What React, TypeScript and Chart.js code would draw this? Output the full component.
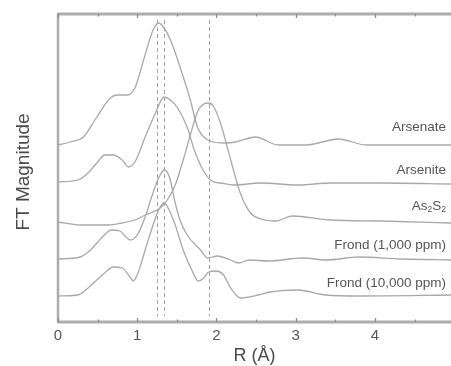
import React, { useEffect, useRef } from "react";
import { Chart, registerables } from "chart.js";

Chart.register(...registerables);

// R (Å) positions and FT magnitudes (arbitrary units, stacked with offsets)
const arsenateR = [0, 0.15, 0.32, 0.49, 0.66, 0.75, 0.87, 0.97, 1.08, 1.2, 1.27, 1.33, 1.42, 1.54, 1.67, 1.76, 1.89, 2.11, 2.24, 2.49, 2.78, 3.13, 3.54, 3.89, 4.97];
const arsenateY = [177, 180, 185, 205, 224, 227, 227, 234, 262, 292, 299, 295, 282, 255, 222, 195, 182, 179, 180, 185, 177, 177, 183, 177, 177];

const arseniteR = [0, 0.25, 0.38, 0.49, 0.59, 0.7, 0.81, 0.89, 0.97, 1.1, 1.23, 1.34, 1.42, 1.51, 1.63, 1.72, 1.83, 1.94, 2.05, 2.22, 2.56, 3.03, 3.44, 4.08, 4.97];
const arseniteY = [140, 142, 149, 159, 167, 167, 162, 155, 160, 185, 209, 225, 222, 214, 195, 172, 152, 141, 139, 137, 139, 137, 139, 139, 138];

const as2s2R = [0, 0.28, 0.63, 0.81, 0.97, 1.1, 1.2, 1.29, 1.38, 1.48, 1.58, 1.67, 1.76, 1.84, 1.9, 1.96, 2.05, 2.18, 2.3, 2.43, 2.56, 2.75, 2.96, 3.44, 4.08, 4.97];
const as2s2Y = [100, 97, 97, 99, 102, 107, 110, 114, 122, 137, 162, 187, 210, 218, 219, 216, 199, 162, 129, 109, 103, 101, 106, 102, 101, 99];

const frond1000R = [0, 0.28, 0.41, 0.49, 0.68, 0.78, 0.91, 1.0, 1.1, 1.19, 1.27, 1.34, 1.41, 1.47, 1.54, 1.63, 1.8, 1.89, 2.01, 2.18, 2.28, 2.41, 2.66, 3.09, 3.38, 3.8, 4.33, 4.97];
const frond1000Y = [63, 65, 72, 79, 92, 91, 82, 87, 105, 127, 144, 152, 144, 122, 102, 87, 72, 64, 66, 62, 59, 62, 61, 64, 62, 65, 63, 62];

const frond10000R = [0, 0.25, 0.38, 0.56, 0.7, 0.81, 0.91, 0.95, 1.01, 1.1, 1.23, 1.29, 1.34, 1.39, 1.48, 1.58, 1.7, 1.77, 1.84, 1.9, 1.99, 2.08, 2.18, 2.3, 2.53, 2.68, 3.03, 3.38, 3.8, 4.97];
const frond10000Y = [26, 27, 34, 47, 55, 54, 45, 41, 49, 72, 104, 115, 119, 114, 97, 72, 50, 41, 44, 50, 51, 48, 34, 24, 27, 30, 32, 27, 26, 27];

const seriesNames = ["Arsenate", "Arsenite", "As2S2", "Frond (1,000 ppm)", "Frond (10,000 ppm)"];
const labelLevels = [195, 152, 116, 77, 39];
const dashedR = [1.25, 1.34, 1.9];
const xTicks = [0, 1, 2, 3, 4];
const xMinorTicks = [0.5, 1.5, 2.5, 3.5, 4.5];

const FONT = "'Liberation Sans', Arial, sans-serif";
const LINE = "#a8a8a8";
const AXIS = "#adadad";
const TEXT = "#555555";

function pts(xs: number[], ys: number[]) {
  return xs.map((x, i) => ({ x, y: ys[i] }));
}

const decorPlugin = {
  id: "decor",
  beforeDatasetsDraw(chart: any) {
    const { ctx, chartArea, scales } = chart;
    const xs = scales.x;
    ctx.save();
    ctx.strokeStyle = "#a0a0a0";
    ctx.lineWidth = 1;
    ctx.setLineDash([4, 3]);
    dashedR.forEach((r) => {
      const px = Math.round(xs.getPixelForValue(r)) + 0.5;
      ctx.beginPath();
      ctx.moveTo(px, chartArea.top + 6);
      ctx.lineTo(px, chartArea.bottom - 6);
      ctx.stroke();
    });
    ctx.restore();
  },
  afterDraw(chart: any) {
    const { ctx, chartArea, scales } = chart;
    const xs = scales.x;
    const ys = scales.y;
    const { left, right, top, bottom } = chartArea;
    ctx.save();
    ctx.setLineDash([]);
    // axes
    ctx.strokeStyle = AXIS;
    ctx.lineWidth = 3;
    ctx.beginPath();
    ctx.moveTo(left - 1, top);
    ctx.lineTo(right, top);
    ctx.moveTo(left - 1, bottom);
    ctx.lineTo(right, bottom);
    ctx.stroke();
    ctx.lineWidth = 2.5;
    ctx.beginPath();
    ctx.moveTo(left, top);
    ctx.lineTo(left, bottom);
    ctx.stroke();
    // ticks
    ctx.strokeStyle = "#888";
    ctx.lineWidth = 1.2;
    const drawTick = (v: number, len: number) => {
      const px = Math.round(xs.getPixelForValue(v)) + 0.5;
      ctx.beginPath();
      ctx.moveTo(px, bottom);
      ctx.lineTo(px, bottom - len);
      ctx.moveTo(px, top);
      ctx.lineTo(px, top + len);
      ctx.stroke();
    };
    xTicks.forEach((v) => drawTick(v, 4));
    xMinorTicks.forEach((v) => drawTick(v, 2.5));
    // tick labels
    ctx.fillStyle = TEXT;
    ctx.font = `15px ${FONT}`;
    ctx.textAlign = "center";
    ctx.textBaseline = "middle";
    xTicks.forEach((v) => {
      ctx.fillText(String(v), xs.getPixelForValue(v), bottom + 14);
    });
    // axis titles
    ctx.fillStyle = "#4a4a4a";
    ctx.font = `18px ${FONT}`;
    ctx.fillText("R (Å)", xs.getPixelForValue(2.48), bottom + 34);
    ctx.save();
    ctx.translate(24, (top + bottom) / 2 + 4);
    ctx.rotate(-Math.PI / 2);
    ctx.font = `19px ${FONT}`;
    ctx.fillText("FT Magnitude", 0, 0);
    ctx.restore();
    // series labels
    ctx.fillStyle = TEXT;
    ctx.textAlign = "right";
    ctx.textBaseline = "middle";
    const rx = 446;
    const labelFont = `13.5px ${FONT}`;
    seriesNames.forEach((name, i) => {
      const py = ys.getPixelForValue(labelLevels[i]);
      if (name === "As2S2") {
        const small = `8.5px ${FONT}`;
        const parts: [string, boolean][] = [["As", false], ["2", true], ["S", false], ["2", true]];
        let w = 0;
        parts.forEach(([t, sub]) => {
          ctx.font = sub ? small : labelFont;
          w += ctx.measureText(t).width;
        });
        let x = rx - w;
        ctx.textAlign = "left";
        parts.forEach(([t, sub]) => {
          ctx.font = sub ? small : labelFont;
          ctx.fillText(t, x, sub ? py + 4 : py);
          x += ctx.measureText(t).width;
        });
        ctx.textAlign = "right";
      } else {
        ctx.font = labelFont;
        ctx.fillText(name, rx, py);
      }
    });
    ctx.restore();
  },
};

export default function App() {
  const ref = useRef<HTMLCanvasElement | null>(null);
  useEffect(() => {
    if (!ref.current) return;
    const mk = (xs: number[], ys: number[]) => ({
      data: pts(xs, ys),
      borderColor: LINE,
      borderWidth: 1.3,
      pointRadius: 0,
      fill: false,
      tension: 0.4,
      cubicInterpolationMode: "monotone" as const,
    });
    const chart = new Chart(ref.current, {
      type: "line",
      data: {
        datasets: [
          mk(arsenateR, arsenateY),
          mk(arseniteR, arseniteY),
          mk(as2s2R, as2s2Y),
          mk(frond1000R, frond1000Y),
          mk(frond10000R, frond10000Y),
        ],
      },
      options: {
        animation: false,
        responsive: false,
        devicePixelRatio: 1,
        layout: { padding: { left: 58, top: 14, right: 0, bottom: 44 } },
        plugins: { legend: { display: false }, tooltip: { enabled: false } },
        scales: {
          x: { type: "linear", min: 0, max: 4.96, display: false },
          y: { type: "linear", min: 0, max: 308, display: false },
        },
      },
      plugins: [decorPlugin],
    });
    return () => chart.destroy();
  }, []);
  return (
    <div style={{ position: "fixed", left: 0, top: 0, width: 451, height: 366, background: "#fff" }}>
      <canvas ref={ref} width={451} height={366} />
    </div>
  );
}
